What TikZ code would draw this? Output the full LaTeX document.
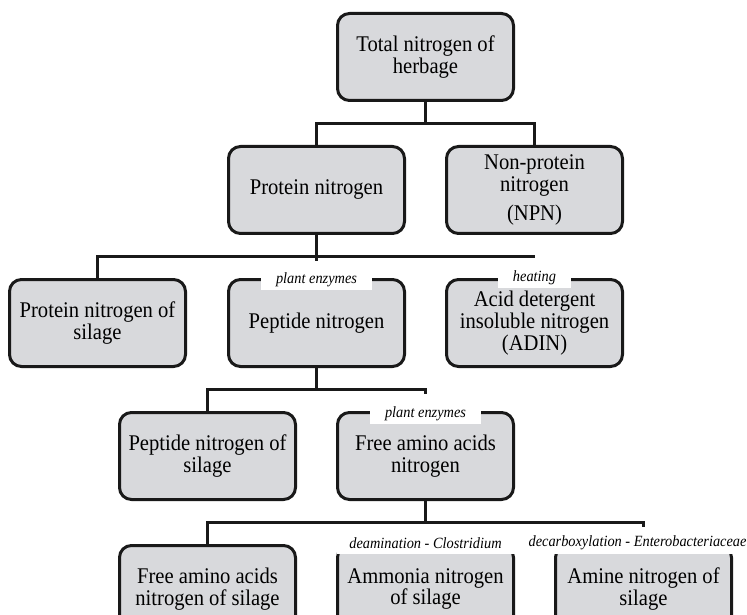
\documentclass[tikz,border=0pt]{standalone}
\usepackage{fontspec}
\setmainfont{Liberation Serif}[FakeStretch=0.92]
\usetikzlibrary{positioning,calc}
\definecolor{boxgray}{RGB}{216,217,220}
\definecolor{edge}{RGB}{25,25,25}
\tikzset{
  box/.style={draw=edge, line width=1.5pt, fill=boxgray, rounded corners=6pt,
    minimum width=88pt, minimum height=43.5pt, inner sep=2pt, align=center,
    font=\fontsize{11.2}{10.9}\selectfont},
  tag/.style={fill=white, inner xsep=7.5pt, inner ysep=0pt, minimum height=10pt,
    font=\fontsize{7.8}{8}\selectfont\itshape},
  link/.style={draw=edge, line width=1.5pt},
}

\begin{document}
\begin{tikzpicture}[node distance=21.5pt]
   \clip (0,0) rectangle (373.5pt,-307pt);

   \node[box] (total) at (212.75pt,-28.5pt) {Total nitrogen of\\herbage};
   \node[box, below=of total, xshift=-54.5pt] (prot) {Protein nitrogen};
   \node[box, below=of total, xshift=54.5pt] (npn) {Non-protein\\nitrogen\\[4pt](NPN)};

   \node[box, below=of prot, xshift=-109.5pt] (protsil) {Protein nitrogen of\\silage};
   \node[box, below=of prot] (pept) {Peptide nitrogen};
   \node[box, below=of npn] (adin) {Acid detergent\\insoluble nitrogen\\(ADIN)};

   \node[box, below=of pept, xshift=-54.5pt] (peptsil) {Peptide nitrogen of\\silage};
   \node[box, below=of pept, xshift=54.5pt] (faa) {Free amino acids\\nitrogen};

   \node[box, below=of faa, xshift=-109pt] (faasil) {Free amino acids\\nitrogen of silage};
   \node[box, below=of faa] (amm) {Ammonia nitrogen\\of silage};
   \node[box, below=of faa, xshift=109pt] (amine) {Amine nitrogen of\\silage};

   \coordinate[below=10.75pt of total.south] (b0);
   \coordinate[below=10.75pt of prot.south] (b1);
   \coordinate[below=10.75pt of pept.south] (b2);
   \coordinate[below=10.75pt of faa.south] (b3);

   \draw[link] (total.south) -- (b0);
   \draw[link] (prot.north) |- (b0) -| (npn.north);

   \draw[link] (prot.south) -- ($(b1)+(0,-2pt)$);
   \draw[link] (protsil.north) |- (b1) -- (adin.north |- b1);

   \draw[link] (pept.south) -- (b2);
   \draw[link] (peptsil.north) |- (b2) -| ($(faa.north |- b2)+(0,-2pt)$);

   \draw[link] (faa.south) -- (b3);
   \draw[link] (faasil.north) |- (b3) -| ($(amine.north |- b3)+(0,-2pt)$);

   \node[tag, yshift=-1pt] (enz1) at (pept.north) {plant enzymes};
   \node[tag] (heat) at (adin.north) {heating};
   \node[tag, yshift=-1.5pt] (enz2) at (faa.north) {plant enzymes};
   \node[tag, minimum width=89pt, minimum height=10.5pt, inner xsep=2pt, yshift=0.5pt] (deam) at (amm.north) {deamination - Clostridium};
   \node[tag, minimum width=89pt, minimum height=10.5pt, inner xsep=2pt, yshift=0.5pt, xshift=-3pt] (decarb) at (amine.north) {decarboxylation - Enterobacteriaceae};
\end{tikzpicture}
\end{document}
